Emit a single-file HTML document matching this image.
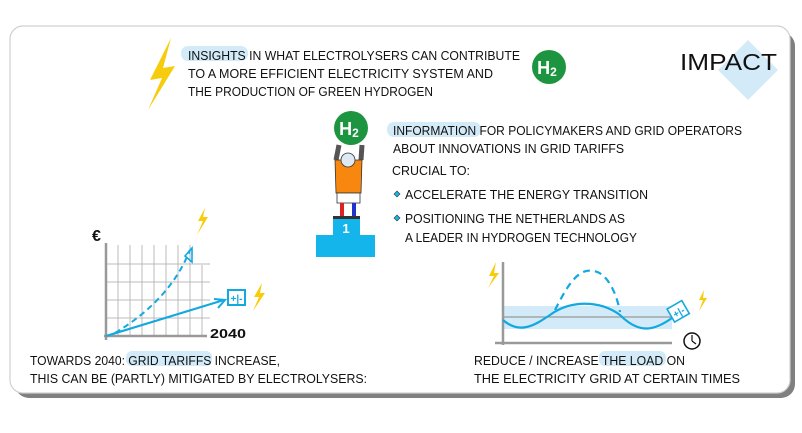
<!DOCTYPE html>
<html><head><style>
html,body{margin:0;padding:0;background:#fff;}
svg{display:block}
text{font-family:"Liberation Sans Narrow","Liberation Sans",sans-serif;fill:#111;}
</style></head><body>
<svg width="802" height="433" viewBox="0 0 802 433" xmlns="http://www.w3.org/2000/svg">
<rect x="15" y="32" width="780" height="366" rx="14" fill="#555" opacity="0.75"/>
<rect x="10" y="26" width="780" height="367" rx="13" fill="#fff" stroke="#d0d0d0" stroke-width="1.2"/>
<path d="M171,38 L150,80 L162,78 L148,110 L175,66 L163,68 Z" fill="#f7cc0c"/>
<rect x="181" y="46" width="67" height="15" rx="7" fill="#d3ebf8"/>
<g font-size="13">
<text x="188" y="60" textLength="332" lengthAdjust="spacingAndGlyphs">INSIGHTS IN WHAT ELECTROLYSERS CAN CONTRIBUTE</text>
<text x="188" y="78" textLength="305" lengthAdjust="spacingAndGlyphs">TO A MORE EFFICIENT ELECTRICITY SYSTEM AND</text>
<text x="188" y="96" textLength="245" lengthAdjust="spacingAndGlyphs">THE PRODUCTION OF GREEN HYDROGEN</text>
</g>
<circle cx="549" cy="67" r="17" fill="#1d9540"/>
<text x="547" y="74" font-size="18" text-anchor="middle" style="fill:#fff;font-weight:bold">H<tspan font-size="12" dy="2">2</tspan></text>
<polygon points="748,40 778,70 748,100 718,70" fill="#d3ebf8"/>
<text x="680" y="70" font-size="23" textLength="97" lengthAdjust="spacingAndGlyphs" style="fill:#111">IMPACT</text>
<rect x="316" y="235" width="59" height="22" fill="#13b5ea"/>
<rect x="333" y="218" width="27" height="18" fill="#13b5ea"/>
<text x="346" y="233" font-size="13" text-anchor="middle" style="fill:#fff;font-weight:bold">1</text>
<path d="M339,145 L336,160 M362,145 L361,160" stroke="#555" stroke-width="5" fill="none"/>
<path d="M335,160 L362,160 L361,193 L336,193 Z" fill="#f7870f" stroke="#333" stroke-width="0.8"/>
<circle cx="348" cy="160" r="7" fill="#dde9f5" stroke="#333" stroke-width="0.8"/>
<rect x="337" y="193" width="23" height="10" fill="#fff" stroke="#333" stroke-width="0.8"/>
<rect x="340" y="203" width="4" height="14" fill="#d22"/><rect x="352" y="203" width="4" height="14" fill="#23c"/>
<rect x="333" y="216" width="27" height="3" fill="#333"/>
<circle cx="351" cy="128" r="17" fill="#1d9540"/>
<text x="349" y="135" font-size="18" text-anchor="middle" style="fill:#fff;font-weight:bold">H<tspan font-size="12" dy="2">2</tspan></text>
<rect x="387" y="122" width="94" height="15" rx="7" fill="#d3ebf8"/>
<g font-size="13">
<text x="393" y="135" textLength="349" lengthAdjust="spacingAndGlyphs">INFORMATION  FOR POLICYMAKERS AND GRID OPERATORS</text>
<text x="393" y="153" textLength="231" lengthAdjust="spacingAndGlyphs">ABOUT INNOVATIONS IN GRID TARIFFS</text>
<text x="392" y="175" textLength="78" lengthAdjust="spacingAndGlyphs">CRUCIAL TO:</text>
<text x="405" y="199" textLength="243" lengthAdjust="spacingAndGlyphs">ACCELERATE THE ENERGY TRANSITION</text>
<text x="405" y="223" textLength="220" lengthAdjust="spacingAndGlyphs">POSITIONING THE NETHERLANDS AS</text>
<text x="405" y="242" textLength="232" lengthAdjust="spacingAndGlyphs">A LEADER IN HYDROGEN TECHNOLOGY</text>
</g>
<polygon points="397,191 400,194 397,197 394,194" fill="#13b5ea" stroke="#333" stroke-width="0.6"/>
<polygon points="397,215 400,218 397,221 394,218" fill="#13b5ea" stroke="#333" stroke-width="0.6"/>
<g stroke="#bbb" stroke-width="1">
<path d="M118,245V336 M130,245V336 M142,245V336 M154,245V336 M166,245V336 M178,245V336 M190,245V336 M202,265V336"/>
<path d="M106,264H210 M106,282H210 M106,300H210 M106,318H210"/>
</g>
<path d="M106,243V340 M104,336H207" stroke="#999" stroke-width="2.5" fill="none"/>
<text x="92" y="241" font-size="16" style="font-weight:bold">€</text>
<text x="210" y="338" font-size="13" textLength="36" lengthAdjust="spacingAndGlyphs" style="font-weight:bold">2040</text>
<path d="M115,333 Q170,300 190,250" stroke="#13a8e0" stroke-width="2" stroke-dasharray="6,4" fill="none"/>
<path d="M185,256 L192,248 L192,262 Z" fill="none" stroke="#13a8e0" stroke-width="1.6"/>
<path d="M106,336 L224,300" stroke="#13a8e0" stroke-width="2.2"/>
<path d="M214,299 L225,300 L218,308" stroke="#13a8e0" stroke-width="2" fill="none"/>
<rect x="228" y="290" width="17" height="15" fill="#fff" stroke="#13a8e0" stroke-width="2"/>
<text x="236.5" y="302" font-size="10" text-anchor="middle" style="fill:#13a8e0;font-weight:bold">+|-</text>
<path d="M262,283 L254,297 L259,297 L253,311 L265,293 L260,293 Z" fill="#f7cc0c"/>
<path d="M205,208 L198,221 L203,221 L197,235 L208,217 L203,217 Z" fill="#f7cc0c"/>
<rect x="126" y="351" width="86" height="15" rx="6" fill="#d3ebf8"/>
<g font-size="13">
<text x="30" y="365" textLength="250" lengthAdjust="spacingAndGlyphs">TOWARDS 2040: GRID TARIFFS INCREASE,</text>
<text x="30" y="383" textLength="337" lengthAdjust="spacingAndGlyphs">THIS CAN BE (PARTLY) MITIGATED BY ELECTROLYSERS:</text>
</g>
<rect x="503" y="306" width="169" height="23" fill="#d3ebf8"/>
<path d="M503,317H672" stroke="#999" stroke-width="1.2"/>
<path d="M503,262V345 M495,343H672" stroke="#999" stroke-width="2.5" fill="none"/>
<path d="M503,320 C520,335 535,325 550,315 C570,300 600,300 620,315 C640,335 655,330 672,318" stroke="#13a8e0" stroke-width="2.2" fill="none"/>
<path d="M555,310 C570,280 580,268 594,271 C610,274 618,300 620,312" stroke="#13a8e0" stroke-width="2.2" stroke-dasharray="7,5" fill="none"/>
<g transform="rotate(-30 678 312)"><rect x="670" y="304" width="17" height="15" fill="#fff" stroke="#13a8e0" stroke-width="1.6"/>
<text x="678.5" y="316" font-size="10" text-anchor="middle" style="fill:#13a8e0;font-weight:bold">+|-</text></g>
<path d="M704,290 L699,300 L703,300 L699,311 L707,298 L703,298 Z" fill="#f7cc0c"/>
<path d="M496,262 L489,276 L494,276 L488,288 L499,273 L494,273 Z" fill="#f7cc0c"/>
<circle cx="692" cy="341" r="8" fill="#fff" stroke="#111" stroke-width="1.5"/>
<path d="M692,341 V335 M692,341 L696,344" stroke="#111" stroke-width="1.2"/>
<rect x="599" y="351" width="67" height="15" rx="6" fill="#d3ebf8"/>
<g font-size="13">
<text x="474" y="365" textLength="211" lengthAdjust="spacingAndGlyphs">REDUCE / INCREASE THE LOAD ON</text>
<text x="474" y="383" textLength="266" lengthAdjust="spacingAndGlyphs">THE ELECTRICITY GRID AT CERTAIN TIMES</text>
</g>
</svg>
</body></html>
